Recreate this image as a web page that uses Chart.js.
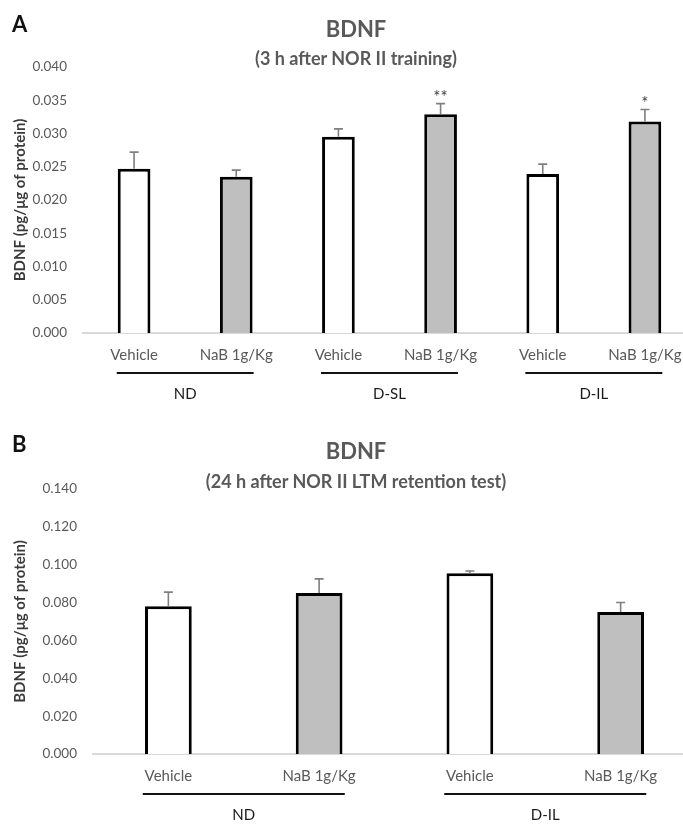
<!DOCTYPE html>
<html>
<head>
<meta charset="utf-8">
<script src="https://cdn.jsdelivr.net/npm/chart.js@4.4.0/dist/chart.umd.min.js"></script>
<style>
  html, body { margin: 0; padding: 0; background: #fff; width: 683px; height: 834px; overflow: hidden; }
  .panel { position: absolute; left: 0; width: 700px; }
  .panel canvas { position: absolute; left: 0; top: 0; }
  .letter { position: absolute; left: 12px; font: bold 22px Lato; line-height: 1.2; color: #111; z-index: 2; }
  .title, .subtitle { position: absolute; left: 0; width: 712px; text-align: center; font-family: Lato; font-weight: bold; line-height: 1.2; color: #595959; z-index: 2; }
  .title { font-size: 22px; }
  .subtitle { font-size: 18px; }
</style>
</head>
<body>
<div class="panel" style="top:0; height:420px">
  <canvas id="chartA" width="700" height="420"></canvas>
  <div class="letter" style="top:11px">A</div>
  <div class="title" style="top:16px">BDNF</div>
  <div class="subtitle" style="top:48px">(3 h after NOR II training)</div>
</div>
<div class="panel" style="top:420px; height:414px">
  <canvas id="chartB" width="700" height="414"></canvas>
  <div class="letter" style="top:11px">B</div>
  <div class="title" style="top:18px">BDNF</div>
  <div class="subtitle" style="top:51px">(24 h after NOR II LTM retention test)</div>
</div>
<script>
// panel A: 3 h after NOR II training
const categoriesA = ["Vehicle", "NaB 1g/Kg", "Vehicle", "NaB 1g/Kg", "Vehicle", "NaB 1g/Kg"];
const groupsA = ["ND", "D-SL", "D-IL"];
const meansA = [0.0247, 0.0235, 0.0295, 0.0329, 0.0239, 0.0318];
const errorsA = [0.0025, 0.0010, 0.0012, 0.0016, 0.0015, 0.0018];
const starsA = ["", "", "", "**", "", "*"];
const yTicksA = [0, 0.005, 0.010, 0.015, 0.020, 0.025, 0.030, 0.035, 0.040];

// panel B: 24 h after NOR II LTM retention test
const categoriesB = ["Vehicle", "NaB 1g/Kg", "Vehicle", "NaB 1g/Kg"];
const groupsB = ["ND", "D-IL"];
const meansB = [0.0780, 0.0850, 0.0955, 0.0750];
const errorsB = [0.0075, 0.0075, 0.0012, 0.0050];
const starsB = ["", "", "", ""];
const yTicksB = [0, 0.020, 0.040, 0.060, 0.080, 0.100, 0.120, 0.140];

const GRAY = "#595959";

// error bars (upward only) + significance stars
const errorBars = {
  id: "errorBars",
  afterDatasetsDraw(chart, args, opts) {
    const { ctx } = chart;
    const y = chart.scales.y;
    const meta = chart.getDatasetMeta(0);
    ctx.save();
    meta.data.forEach((bar, i) => {
      const top = y.getPixelForValue(opts.means[i] + opts.errors[i]);
      ctx.strokeStyle = "#7f7f7f";
      ctx.lineWidth = 1.6;
      ctx.beginPath();
      ctx.moveTo(bar.x, bar.y);
      ctx.lineTo(bar.x, top);
      ctx.moveTo(bar.x - 4.5, top);
      ctx.lineTo(bar.x + 4.5, top);
      ctx.stroke();
      if (opts.stars[i]) {
        ctx.fillStyle = "#404040";
        ctx.font = "17px Lato";
        ctx.textAlign = "center";
        ctx.textBaseline = "alphabetic";
        ctx.fillText(opts.stars[i], bar.x, top - 1);
      }
    });
    ctx.restore();
  },
};

// group underline and name below the category labels
const groupAxis = {
  id: "groupAxis",
  afterDraw(chart, args, opts) {
    const { ctx, chartArea } = chart;
    const x = chart.scales.x;
    const per = chart.data.labels.length / opts.groups.length;
    const cw = x.getPixelForValue(1) - x.getPixelForValue(0);
    ctx.save();
    opts.groups.forEach((name, g) => {
      const c = (x.getPixelForValue(g * per) + x.getPixelForValue(g * per + per - 1)) / 2;
      const ly = chartArea.bottom + 40;
      ctx.strokeStyle = "#111";
      ctx.lineWidth = 2;
      ctx.beginPath();
      ctx.moveTo(c - cw * 0.67, ly);
      ctx.lineTo(c + cw * 0.67, ly);
      ctx.stroke();
      ctx.fillStyle = "#1a1a1a";
      ctx.font = "15px Lato";
      ctx.textAlign = "center";
      ctx.textBaseline = "middle";
      ctx.fillText(name, c, chartArea.bottom + 61);
    });
    ctx.restore();
  },
};

function makeChart(id, labels, means, errors, stars, groups, yTicks, yWidth, xHeight, top, barPct) {
  return new Chart(document.getElementById(id), {
    type: "bar",
    data: {
      labels: labels,
      datasets: [
        {
          data: means,
          backgroundColor: means.map((v, i) => (i % 2 ? "#bfbfbf" : "#ffffff")),
          borderColor: "#000",
          borderWidth: 3,
          borderSkipped: "bottom",
          barPercentage: barPct,
          categoryPercentage: 1,
        },
      ],
    },
    options: {
      responsive: false,
      animation: false,
      devicePixelRatio: 1,
      layout: { padding: { top: top, right: 4, left: 0, bottom: 0 } },
      plugins: {
        legend: { display: false },
        tooltip: { enabled: false },
        errorBars: { means: means, errors: errors, stars: stars },
        groupAxis: { groups: groups },
      },
      scales: {
        x: {
          z: 1,
          grid: { display: false, drawTicks: false },
          border: { display: true, color: "#d9d9d9", width: 2 },
          ticks: { color: GRAY, font: { size: 15 }, padding: 13, maxRotation: 0, autoSkip: false },
          afterFit: (s) => { s.height = xHeight; },
        },
        y: {
          min: yTicks[0],
          max: yTicks[yTicks.length - 1],
          grid: { display: false, drawTicks: false },
          border: { display: false },
          afterBuildTicks: (s) => { s.ticks = yTicks.map((v) => ({ value: v })); },
          ticks: { color: GRAY, font: { size: 13.5 }, padding: 16, callback: (v) => Number(v).toFixed(3) },
          title: {
            display: true,
            text: "BDNF (pg/μg of protein)",
            color: "#3a3a3a",
            font: { size: 15, weight: "bold" },
            padding: { top: 11, bottom: 0 },
          },
          afterFit: (s) => { s.width = yWidth; },
        },
      },
    },
    plugins: [errorBars, groupAxis],
  });
}

Chart.defaults.font.family = "Lato";

Promise.all([document.fonts.load("14px Lato"), document.fonts.load("bold 14px Lato")]).then(() => {
  makeChart("chartA", categoriesA, meansA, errorsA, starsA, groupsA, yTicksA, 83, 87, 67, 0.32);
  makeChart("chartB", categoriesB, meansB, errorsB, starsB, groupsB, yTicksB, 93, 80, 69, 0.31);
});
</script>
</body>
</html>
